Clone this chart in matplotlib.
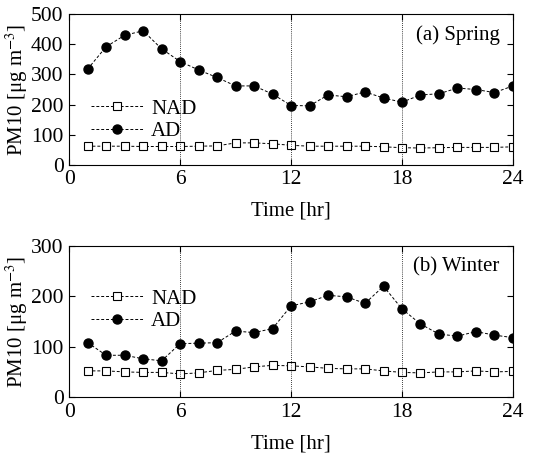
import matplotlib
matplotlib.use("Agg")
import matplotlib.pyplot as plt

plt.rcParams['font.family'] = ['Liberation Serif', 'DejaVu Serif']
plt.rcParams['mathtext.fontset'] = 'stix'

hours = list(range(1, 25))

spring_ad = [318, 392, 430, 445, 385, 343, 315, 290, 262, 262, 235, 197,
             196, 232, 226, 242, 222, 208, 232, 236, 255, 250, 240, 262]
spring_nad = [62, 62, 62, 61, 61, 61, 62, 63, 73, 73, 70, 65,
              62, 62, 62, 62, 60, 57, 56, 57, 58, 58, 58, 60]

winter_ad = [108, 83, 83, 76, 72, 106, 107, 108, 131, 128, 136, 181,
             189, 202, 199, 186, 220, 175, 145, 125, 121, 130, 123, 118]
winter_nad = [52, 52, 50, 49, 49, 46, 48, 53, 55, 60, 63, 62,
              60, 57, 56, 56, 52, 49, 48, 50, 50, 52, 50, 51]

panels = [
    ("(a) Spring", spring_nad, spring_ad, 500, 100, [0.129, 0.640, 0.828, 0.329], (0.03, 0.10)),
    ("(b) Winter", winter_nad, winter_ad, 300, 100, [0.129, 0.133, 0.828, 0.330], (0.03, 0.38)),
]

fig = plt.figure(figsize=(5.36, 4.58), dpi=100)

for title, nad, ad, ymax, ystep, pos, leg_pos in panels:
    ax = fig.add_axes(pos)
    ls = (0, (3, 2))
    ax.plot(hours, nad, linestyle=ls, color='black', lw=0.7,
            marker='s', markersize=5.5, markerfacecolor='white',
            markeredgecolor='black', markeredgewidth=0.8, label='NAD')
    ax.plot(hours, ad, linestyle=ls, color='black', lw=0.7,
            marker='o', markersize=6.5, markerfacecolor='black',
            markeredgecolor='black', label='AD')
    for xv in [6, 12, 18]:
        ax.axvline(xv, color='black', lw=0.6, linestyle=(0, (1, 1.5)))
    ax.set_xlim(0, 24)
    ax.set_ylim(0, ymax)
    ax.set_xticks([0, 6, 12, 18, 24])
    ax.set_yticks(list(range(0, ymax + 1, ystep)))
    ax.tick_params(direction='in', top=True, right=True, labelsize=15.5,
                   length=4, width=0.8, pad=4)
    for sp in ax.spines.values():
        sp.set_linewidth(0.8)
    ax.set_xlabel("Time [hr]", fontsize=15, labelpad=9)
    ax.set_ylabel("PM10 [μg m$^{-3}$]", fontsize=15, labelpad=1)
    ax.text(0.97, 0.86, title, transform=ax.transAxes, ha='right',
            va='center', fontsize=15)
    ax.legend(loc='lower left', bbox_to_anchor=leg_pos, frameon=False,
              fontsize=15, handlelength=2.5, handletextpad=0.4,
              labelspacing=0.15, borderaxespad=0)

fig.savefig("out.png", dpi=100)
